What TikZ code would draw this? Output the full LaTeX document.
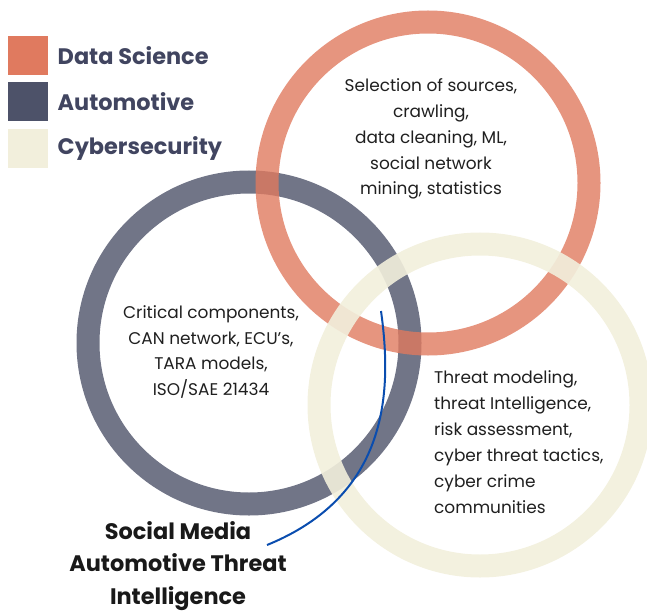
\documentclass[tikz,border=0pt]{standalone}
\usepackage{fontspec}
\setmainfont{Poppins}
\usetikzlibrary{positioning}
\definecolor{datasci}{HTML}{E07A5F}
\definecolor{automot}{HTML}{4D5269}
\definecolor{cybersec}{HTML}{F2EFDC}
\definecolor{legendtext}{HTML}{414560}
\definecolor{leadblue}{HTML}{0A4DAF}

\begin{document}
\begin{tikzpicture}[x=1bp, y=-1bp,
    ring/.style={line width=23bp, draw opacity=0.8},
    swatch/.style={minimum width=40bp, minimum height=39bp, inner sep=0pt},
    legendlabel/.style={font=\fontsize{22.5}{26}\selectfont\bfseries, text=legendtext, anchor=west},
    bodytext/.style={font=\fontsize{17}{26}\selectfont, text=black!88, inner sep=0pt},
    biglabel/.style={font=\fontsize{22.5}{32.5}\selectfont\bfseries, text=black!90, align=center, inner sep=0pt}]
  \useasboundingbox (0,0) rectangle (647,612);

  % ring centres
  \coordinate (automotive) at (249,343);
  \coordinate (datascience) at (428,183);
  \coordinate (cybersecurity) at (480,405);

  \draw[ring, automot] (automotive) circle (161);
  \draw[ring, datasci] (datascience) circle (161);
  \draw[ring, cybersec, draw opacity=0.9] (cybersecurity) circle (161);

  % legend
  \node[swatch, fill=datasci] (dsbox) at (28,55.5) {};
  \node[swatch, fill=automot, below=7bp of dsbox] (aubox) {};
  \node[swatch, fill=cybersec, below=7bp of aubox] (csbox) {};
  \node[legendlabel, right=6bp of dsbox] (dslabel) {Data Science};
  \node[legendlabel, right=6bp of aubox] (aulabel) {Automotive};
  \node[legendlabel, right=6bp of csbox] (cslabel) {Cybersecurity};

  % texts inside the rings
  \node[bodytext, align=center] (dstext) at (431,139)
    {Selection of sources,\\crawling,\\data cleaning, ML,\\social network\\mining, statistics};
  \node[bodytext, align=center] (autext) at (211,352)
    {Critical components,\\CAN network, ECU’s,\\TARA models,\\ISO/SAE 21434};
  \node[bodytext, align=left, anchor=west] (cstext) at (434,442)
    {Threat modeling,\\threat Intelligence,\\risk assessment,\\cyber threat tactics,\\cyber crime\\communities};

  % label and lead line
  \node[biglabel] (smati) at (178,566) {Social Media\\Automotive Threat\\Intelligence};
  \coordinate (leadstart) at (267,545);
  \coordinate (leadtip) at (381,311);
  \draw[leadblue, line width=2bp] (leadstart) .. controls (390,495) and (392,390) .. (leadtip);
\end{tikzpicture}
\end{document}
